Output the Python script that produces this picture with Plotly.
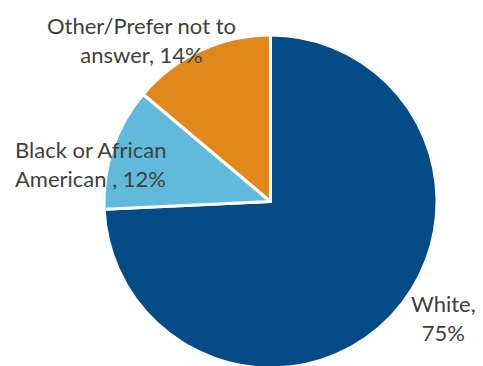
import plotly.graph_objects as go

categories = ["White", "Black or African American ", "Other/Prefer not to answer"]
values = [75, 12, 14]
colors = ["#034B87", "#60BADB", "#E0881A"]
label_text = ["White,<br>75%", "Black or African<br>American , 12%", "Other/Prefer not to<br>answer, 14%"]

fig = go.Figure(go.Pie(
    labels=categories,
    values=values,
    sort=False,
    direction="clockwise",
    rotation=0,
    marker=dict(colors=colors, line=dict(color="white", width=3)),
    textinfo="none",
    hoverinfo="label+percent",
    showlegend=False,
))

W, H = 483, 368
ml, mr, mt, mb = 104, 46, 35, 0
pw, ph = W - ml - mr, H - mt - mb

def px(x, y):
    return (x - ml) / pw, 1 - (y - mt) / ph

font = dict(family="Lato, Carlito, sans-serif", size=22, color="#404040")
anchors = [(443, 318, "center", "center"), (13, 164, "left", "left"), (141, 40, "center", "center")]
for txt, (x, y, al, xa) in zip(label_text, anchors):
    fx, fy = px(x, y)
    fig.add_annotation(x=fx, y=fy, xref="paper", yref="paper", text=txt, showarrow=False,
                       font=font, align=al, xanchor=xa, yanchor="middle")

fig.update_layout(
    width=W, height=H,
    margin=dict(l=ml, r=mr, t=mt, b=mb),
    paper_bgcolor="white", plot_bgcolor="white",
)
fig.write_html("out.html", config={"displayModeBar": False},
               post_script="document.body.style.margin='0';document.body.style.overflow='hidden';")
